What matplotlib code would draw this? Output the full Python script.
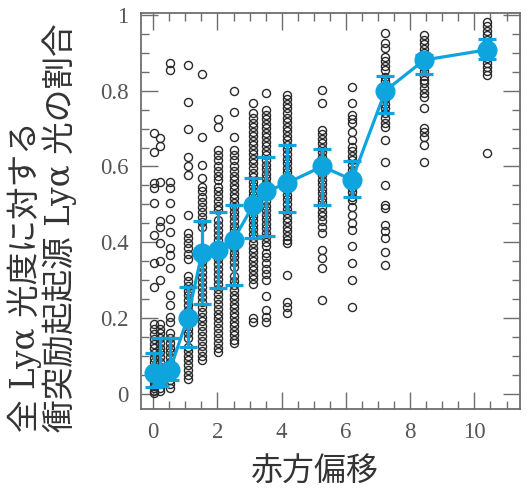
import matplotlib
matplotlib.use("Agg")
from matplotlib import pyplot as plt
from matplotlib.ticker import MultipleLocator

# redshift of each snapshot and fraction of collisional Lya
z_snap = [0.02, 0.22, 0.52, 1.07, 1.52, 2.03, 2.5, 3.12, 3.52, 4.16, 5.26, 6.19, 7.23, 8.44, 10.4]
frac_med = [0.055, 0.048, 0.063, 0.2, 0.372, 0.38, 0.406, 0.499, 0.534, 0.556, 0.6, 0.565, 0.8, 0.881, 0.908]
frac_lo = [0.018, 0.02, 0.037, 0.124, 0.237, 0.28, 0.288, 0.41, 0.417, 0.48, 0.499, 0.52, 0.742, 0.844, 0.884]
frac_hi = [0.108, 0.148, 0.148, 0.282, 0.457, 0.48, 0.499, 0.57, 0.626, 0.657, 0.646, 0.615, 0.839, 0.895, 0.937]

# individual galaxies, one list per snapshot
gal = [
    [0.688, 0.639, 0.556, 0.543, 0.503, 0.42, 0.345, 0.283, 0.185, 0.17, 0.158, 0.145, 0.132, 0.12,
     0.108, 0.095, 0.083, 0.07, 0.06, 0.05, 0.04, 0.03, 0.022, 0.015, 0.008, 0.003],
    [0.675, 0.653, 0.56, 0.455, 0.441, 0.398, 0.35, 0.3, 0.185, 0.172, 0.16, 0.148, 0.135, 0.122,
     0.11, 0.098, 0.085, 0.072, 0.06, 0.048, 0.036, 0.025, 0.015, 0.008],
    [0.873, 0.855, 0.56, 0.543, 0.503, 0.461, 0.428, 0.384, 0.367, 0.332, 0.261, 0.235, 0.204, 0.19,
     0.16, 0.148, 0.135, 0.122, 0.11, 0.098, 0.085, 0.072, 0.06, 0.048, 0.036, 0.025, 0.015],
    [0.868, 0.771, 0.699, 0.626, 0.6, 0.578, 0.472, 0.424, 0.41, 0.397, 0.384, 0.37, 0.356, 0.31,
     0.298, 0.285, 0.272, 0.26, 0.247, 0.235, 0.222, 0.21, 0.197, 0.185, 0.172, 0.16, 0.148, 0.124,
     0.112, 0.1, 0.088, 0.075, 0.063, 0.05, 0.038],
    [0.844, 0.679, 0.604, 0.569, 0.547, 0.535, 0.52, 0.507, 0.494, 0.48, 0.467, 0.454, 0.441, 0.372,
     0.36, 0.347, 0.334, 0.321, 0.308, 0.295, 0.282, 0.269, 0.256, 0.243, 0.23, 0.217, 0.204, 0.191,
     0.178, 0.165, 0.152, 0.139, 0.126, 0.113, 0.1, 0.09],
    [0.725, 0.705, 0.644, 0.63, 0.617, 0.6, 0.587, 0.575, 0.565, 0.547, 0.534, 0.521, 0.508, 0.495,
     0.486, 0.459, 0.446, 0.433, 0.42, 0.407, 0.394, 0.381, 0.368, 0.355, 0.342, 0.329, 0.316, 0.303,
     0.29, 0.277, 0.264, 0.251, 0.238, 0.225, 0.212, 0.199, 0.186, 0.173, 0.16, 0.147, 0.134, 0.121, 0.11],
    [0.798, 0.745, 0.677, 0.644, 0.63, 0.617, 0.6, 0.588, 0.576, 0.564, 0.552, 0.54, 0.528, 0.516,
     0.504, 0.492, 0.48, 0.468, 0.456, 0.444, 0.432, 0.42, 0.408, 0.396, 0.384, 0.372, 0.36, 0.348,
     0.336, 0.31, 0.298, 0.286, 0.274, 0.262, 0.25, 0.238, 0.226, 0.214, 0.202, 0.19, 0.178, 0.166,
     0.154, 0.142, 0.134],
    [0.768, 0.741, 0.728, 0.716, 0.704, 0.692, 0.68, 0.668, 0.656, 0.644, 0.632, 0.62, 0.608, 0.596,
     0.584, 0.572, 0.56, 0.548, 0.536, 0.524, 0.512, 0.5, 0.494, 0.482, 0.47, 0.458, 0.446, 0.434,
     0.422, 0.41, 0.398, 0.386, 0.374, 0.362, 0.35, 0.338, 0.326, 0.314, 0.302, 0.29, 0.2, 0.19],
    [0.793, 0.749, 0.737, 0.725, 0.713, 0.701, 0.689, 0.677, 0.665, 0.653, 0.641, 0.629, 0.617, 0.605,
     0.593, 0.581, 0.569, 0.557, 0.545, 0.533, 0.521, 0.509, 0.497, 0.485, 0.473, 0.461, 0.449, 0.437,
     0.425, 0.413, 0.401, 0.389, 0.372, 0.36, 0.345, 0.33, 0.315, 0.3, 0.257, 0.222, 0.204, 0.19],
    [0.789, 0.777, 0.765, 0.753, 0.741, 0.729, 0.717, 0.705, 0.693, 0.681, 0.669, 0.657, 0.645, 0.633,
     0.621, 0.609, 0.597, 0.585, 0.573, 0.561, 0.549, 0.537, 0.525, 0.513, 0.501, 0.489, 0.477, 0.465,
     0.453, 0.441, 0.429, 0.417, 0.405, 0.398, 0.314, 0.243, 0.228, 0.213],
    [0.802, 0.768, 0.697, 0.685, 0.673, 0.661, 0.649, 0.637, 0.625, 0.613, 0.601, 0.589, 0.577, 0.565,
     0.553, 0.541, 0.529, 0.517, 0.505, 0.493, 0.481, 0.469, 0.457, 0.441, 0.424, 0.38, 0.359, 0.332, 0.248],
    [0.809, 0.767, 0.736, 0.725, 0.714, 0.692, 0.67, 0.652, 0.64, 0.628, 0.616, 0.604, 0.592, 0.58,
     0.568, 0.556, 0.544, 0.532, 0.52, 0.512, 0.494, 0.472, 0.451, 0.433, 0.389, 0.345, 0.301, 0.23],
    [0.953, 0.925, 0.913, 0.89, 0.878, 0.866, 0.855, 0.837, 0.825, 0.813, 0.801, 0.789, 0.777, 0.765,
     0.753, 0.741, 0.728, 0.716, 0.705, 0.67, 0.611, 0.551, 0.499, 0.491, 0.446, 0.43, 0.412, 0.375, 0.34],
    [0.947, 0.935, 0.923, 0.911, 0.899, 0.887, 0.875, 0.863, 0.851, 0.839, 0.827, 0.82, 0.807, 0.795,
     0.784, 0.754, 0.702, 0.69, 0.678, 0.657, 0.611],
    [0.982, 0.97, 0.958, 0.946, 0.934, 0.922, 0.91, 0.898, 0.886, 0.874, 0.862, 0.852, 0.842, 0.635],
]

xlabel = "赤方偏移"
ylabel = "全 Lyα 光度に対する\n衝突励起起源 Lyα 光の割合"

blue = "#0ea5de"
grey = "#6e6e6e"

fig = plt.figure(figsize=(5.27, 4.88), dpi=100)
ax = fig.add_axes([141 / 527, 79 / 488, 379 / 527, 396 / 488])

for zz, vals in zip(z_snap, gal):
    ax.plot([zz] * len(vals), vals, "o", ms=5.8, mfc="none", mec="#2a2a2a", mew=1.0, zorder=2)

lo_err = [m - l for m, l in zip(frac_med, frac_lo)]
hi_err = [h - m for m, h in zip(frac_med, frac_hi)]
ax.errorbar(z_snap, frac_med, yerr=[lo_err, hi_err], fmt="-o", color=blue, ms=13.5, lw=2.3,
            elinewidth=2.3, capsize=6.5, capthick=2.3, zorder=5)

ax.set_xlim(-0.38, 11.42)
ax.set_ylim(-0.04, 1.005)
ax.xaxis.set_major_locator(MultipleLocator(2))
ax.xaxis.set_minor_locator(MultipleLocator(0.5))
ax.yaxis.set_major_locator(MultipleLocator(0.2))
ax.yaxis.set_minor_locator(MultipleLocator(0.05))
ax.set_yticks([0, 0.2, 0.4, 0.6, 0.8, 1.0])
ax.set_yticklabels(["0", "0.2", "0.4", "0.6", "0.8", "1"])
ax.tick_params(which="both", direction="in", top=True, right=True, color=grey, width=1)
ax.tick_params(which="major", length=12, pad=9, labelsize=16.5, labelcolor="#555555")
ax.tick_params(which="minor", length=5.5)
for lab in ax.get_xticklabels() + ax.get_yticklabels():
    lab.set_family("Liberation Serif")
for sp in ax.spines.values():
    sp.set_color(grey)
    sp.set_linewidth(1.3)

fig.text(315 / 527, 16 / 488, xlabel, ha="center", va="center", fontsize=23,
         family=["Noto Sans CJK JP"], color="#333333")
fig.text(42 / 527, 56 / 488, ylabel, rotation=90, ha="center", va="bottom",
         multialignment="left", linespacing=1.0, fontsize=23.5,
         family=["DejaVu Serif", "Noto Sans CJK JP"], color="#333333")

fig.savefig("out.png", dpi=100)
